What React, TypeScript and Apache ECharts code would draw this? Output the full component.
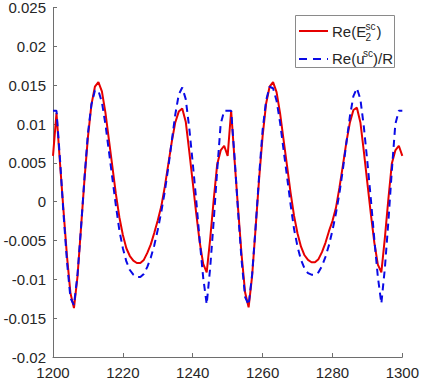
import React, { useEffect, useRef } from "react";
import * as echarts from "echarts";

const X_START = 1200;

// Re(E2^sc) sampled at 1200..1300
const redValues = [
  0.0059, 0.0114, 0.0050, -0.0011, -0.0070, -0.0118, -0.0137, -0.0097, -0.0035, 0.0028,
  0.0083, 0.0125, 0.0148, 0.0154, 0.0142, 0.0115, 0.0080, 0.0045, 0.0010, -0.0020,
  -0.0043, -0.0060, -0.0070, -0.0076, -0.0079, -0.0079, -0.0075, -0.0066, -0.0055, -0.0040,
  -0.0024, -0.0006, 0.0019, 0.0048, 0.0077, 0.0102, 0.0116, 0.0120, 0.0103, 0.0065,
  0.0025, -0.0015, -0.0052, -0.0080, -0.0091, -0.0048, 0.0002, 0.0048, 0.0066, 0.0072,
  0.0059, 0.0117, 0.0052, -0.0010, -0.0069, -0.0117, -0.0136, -0.0096, -0.0034, 0.0029,
  0.0084, 0.0126, 0.0148, 0.0154, 0.0141, 0.0114, 0.0080, 0.0046, 0.0012, -0.0018,
  -0.0041, -0.0058, -0.0069, -0.0075, -0.0078, -0.0078, -0.0074, -0.0065, -0.0053, -0.0038,
  -0.0025, -0.0008, 0.0018, 0.0047, 0.0077, 0.0102, 0.0118, 0.0121, 0.0102, 0.0064,
  0.0024, -0.0016, -0.0053, -0.0081, -0.0091, -0.0047, 0.0003, 0.0049, 0.0066, 0.0072,
  0.0059,
];

// Re(u^sc)/R sampled at 1200..1300
const blueValues = [
  0.0117, 0.0117, 0.0055, -0.0015, -0.0077, -0.0124, -0.0133, -0.0095, -0.0035, 0.0030,
  0.0088, 0.0125, 0.0143, 0.0143, 0.0128, 0.0100, 0.0065, 0.0030, -0.0005, -0.0037,
  -0.0060, -0.0077, -0.0088, -0.0094, -0.0097, -0.0097, -0.0093, -0.0084, -0.0072, -0.0056,
  -0.0036, -0.0013, 0.0013, 0.0044, 0.0078, 0.0112, 0.0138, 0.0147, 0.0132, 0.0095,
  0.0050, 0.0002, -0.0050, -0.0098, -0.0132, -0.0085, -0.0025, 0.0040, 0.0100, 0.0117,
  0.0117, 0.0117, 0.0056, -0.0014, -0.0076, -0.0123, -0.0133, -0.0094, -0.0033, 0.0033,
  0.0092, 0.0130, 0.0148, 0.0146, 0.0130, 0.0102, 0.0067, 0.0032, -0.0003, -0.0035,
  -0.0058, -0.0075, -0.0086, -0.0092, -0.0094, -0.0094, -0.0091, -0.0083, -0.0071, -0.0056,
  -0.0037, -0.0015, 0.0011, 0.0042, 0.0076, 0.0110, 0.0136, 0.0146, 0.0132, 0.0096,
  0.0051, 0.0003, -0.0049, -0.0097, -0.0131, -0.0086, -0.0026, 0.0040, 0.0100, 0.0117,
  0.0117,
];

const xTicks = [1200, 1220, 1240, 1260, 1280, 1300];
const yTicks = [-0.02, -0.015, -0.01, -0.005, 0, 0.005, 0.01, 0.015, 0.02, 0.025];

const seriesNames = ["Re(E2sc)", "Re(usc)/R"];

const FONT = "'Liberation Sans', Arial, Helvetica, sans-serif";
const TEXT = "#262626";
const AXIS = "#6e6e6e";
const RED = "#e60000";
const BLUE = "#0a0ae6";

export default function App() {
  const ref = useRef<HTMLDivElement>(null);

  useEffect(() => {
    if (!ref.current) return;
    const chart = echarts.init(ref.current, undefined, { renderer: "svg" });
    const xs: number[] = [];
    for (let i = 0; i < redValues.length; i++) xs.push(X_START + i);
    const redData = xs.map((x, i) => [x, redValues[i]]);
    const blueData = xs.map((x, i) => [x, blueValues[i]]);

    const axisCommon = {
      axisLine: { show: true, onZero: false, lineStyle: { color: AXIS, width: 1 } },
      axisTick: { show: true, inside: true, length: 4, lineStyle: { color: AXIS } },
      splitLine: { show: false },
    };

    chart.setOption({
      animation: false,
      backgroundColor: "#fff",
      grid: { left: 53, right: 18, top: 6, bottom: 23, containLabel: false },
      xAxis: {
        type: "value",
        min: xTicks[0],
        max: xTicks[xTicks.length - 1],
        interval: xTicks[1] - xTicks[0],
        ...axisCommon,
        axisLabel: {
          margin: 8,
          color: TEXT,
          fontSize: 15,
          fontFamily: FONT,
          showMinLabel: true,
          showMaxLabel: true,
          formatter: (v: number) => String(v),
        },
      },
      yAxis: {
        type: "value",
        min: yTicks[0],
        max: yTicks[yTicks.length - 1],
        interval: 0.005,
        ...axisCommon,
        axisLabel: {
          margin: 7,
          color: TEXT,
          fontSize: 15,
          fontFamily: FONT,
          formatter: (v: number) => String(parseFloat(v.toFixed(3))),
        },
      },
      series: [
        {
          name: seriesNames[0],
          type: "line",
          data: redData,
          showSymbol: false,
          lineStyle: { color: RED, width: 2 },
          itemStyle: { color: RED },
          z: 2,
        },
        {
          name: seriesNames[1],
          type: "line",
          data: blueData,
          showSymbol: false,
          lineStyle: { color: BLUE, width: 2, type: [7, 5] },
          itemStyle: { color: BLUE },
          z: 3,
        },
      ],
      graphic: [
        {
          type: "rect",
          shape: { x: 295.5, y: 15.5, width: 99, height: 52 },
          style: { fill: "#fff", stroke: "#8a8a8a", lineWidth: 1 },
          z: 10,
        },
        {
          type: "line",
          shape: { x1: 299, y1: 31, x2: 328, y2: 31 },
          style: { stroke: RED, lineWidth: 2 },
          z: 11,
        },
        {
          type: "line",
          shape: { x1: 299, y1: 59, x2: 328, y2: 59 },
          style: { stroke: BLUE, lineWidth: 2, lineDash: [8, 6] },
          z: 11,
        },
        {
          type: "text",
          x: 332,
          y: 31,
          style: { text: "Re(E", fill: TEXT, font: `15px ${FONT}`, textVerticalAlign: "middle" },
          z: 11,
        },
        {
          type: "text",
          x: 365.5,
          y: 26,
          style: { text: "sc", fill: TEXT, font: `10px ${FONT}`, textVerticalAlign: "middle" },
          z: 11,
        },
        {
          type: "text",
          x: 365.5,
          y: 37,
          style: { text: "2", fill: TEXT, font: `10px ${FONT}`, textVerticalAlign: "middle" },
          z: 11,
        },
        {
          type: "text",
          x: 376.5,
          y: 31,
          style: { text: ")", fill: TEXT, font: `15px ${FONT}`, textVerticalAlign: "middle" },
          z: 11,
        },
        {
          type: "text",
          x: 332,
          y: 58,
          style: { text: "Re(u", fill: TEXT, font: `15px ${FONT}`, textVerticalAlign: "middle" },
          z: 11,
        },
        {
          type: "text",
          x: 363,
          y: 53,
          style: { text: "sc", fill: TEXT, font: `10px ${FONT}`, textVerticalAlign: "middle" },
          z: 11,
        },
        {
          type: "text",
          x: 373,
          y: 58,
          style: { text: ")/R", fill: TEXT, font: `15px ${FONT}`, textVerticalAlign: "middle" },
          z: 11,
        },
      ],
    });

    return () => chart.dispose();
  }, []);

  return (
    <div
      ref={ref}
      style={{ position: "fixed", left: 0, top: 0, width: 422, height: 380 }}
    />
  );
}
